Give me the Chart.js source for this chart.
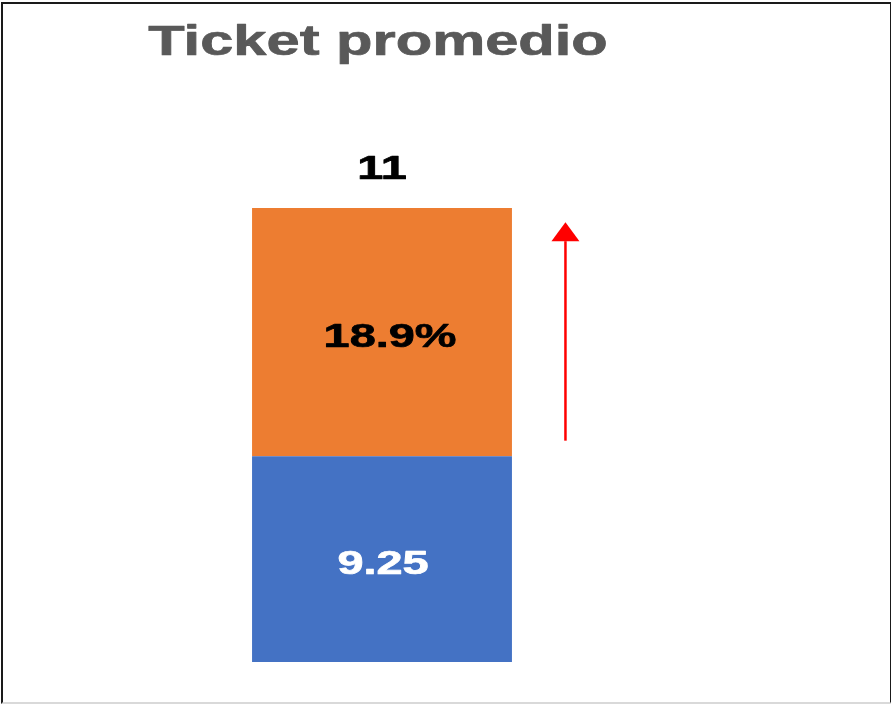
<!DOCTYPE html>
<html>
<head>
<meta charset="utf-8">
<script src="https://cdn.jsdelivr.net/npm/chart.js@4.4.1/dist/chart.umd.min.js"></script>
<style>
  html, body { margin:0; padding:0; background:#fff; }
  #wrap { position:relative; width:891px; height:704px; }
  #frame { position:absolute; left:1px; top:2px; width:887px; height:698px;
    border:2px solid #1a1a1a; border-bottom-color:#d9d9d9; pointer-events:none; }
</style>
</head>
<body>
<div id="wrap">
  <canvas id="ticketChart" width="891" height="704"></canvas>
  <div id="frame"></div>
</div>
<script>
// Chart data
const categories = ['Ticket promedio'];
const baseValues = [9.25];
const increaseValues = [1.75];
const baseLabels = ['9.25'];
const increaseLabels = ['18.9%'];
const totalLabels = ['11'];
const arrowFrom = 9.36, arrowTo = 10.9;   // red arrow next to the bar, in axis units
const axisMin = 7.8, axisMax = 11;

const STRETCH = 1.42;   // text in the original is drawn wide
const FONT = '"Liberation Sans", Arial, sans-serif';

function wideText(ctx, txt, x, y, size, color){
  ctx.save();
  ctx.font = 'bold ' + size + 'px ' + FONT;
  ctx.fillStyle = color;
  ctx.strokeStyle = color;
  ctx.lineWidth = 0.7;
  ctx.lineJoin = 'round';
  ctx.textAlign = 'center';
  ctx.textBaseline = 'alphabetic';
  ctx.translate(x, y);
  ctx.scale(STRETCH, 1);
  ctx.fillText(txt, 0, 0);
  ctx.strokeText(txt, 0, 0);
  ctx.restore();
}

// labels, title and arrow
const overlay = {
  id: 'overlay',
  afterDatasetsDraw(chart){
    const ctx = chart.ctx;
    const y = chart.scales.y;
    const area = chart.chartArea;
    const base = chart.getDatasetMeta(0).data[0];
    const inc = chart.getDatasetMeta(1).data[0];
    const cx = base.x;
    const cap = 0.716 * 33;
    const baseBottom = Math.min(base.base, area.bottom);

    wideText(ctx, categories[0], cx - 4, 55, 42, '#595959');

    wideText(ctx, totalLabels[0], cx, inc.y - 29, 33, '#000');
    wideText(ctx, increaseLabels[0], cx + 8, (inc.y + inc.base)/2 + cap/2 + 3, 33, '#000');
    wideText(ctx, baseLabels[0], cx + 1, (base.y + baseBottom)/2 + cap/2 + 3, 33, '#fff');

    // arrow
    const ax = cx + inc.width/2 + 53.5;
    const yFrom = y.getPixelForValue(arrowFrom);
    const yTip = y.getPixelForValue(arrowTo);
    const headH = 19, headW = 14;
    ctx.save();
    ctx.strokeStyle = '#ff0000';
    ctx.fillStyle = '#ff0000';
    ctx.lineWidth = 2.5;
    ctx.beginPath();
    ctx.moveTo(ax, yFrom);
    ctx.lineTo(ax, yTip + headH);
    ctx.stroke();
    ctx.beginPath();
    ctx.moveTo(ax, yTip);
    ctx.lineTo(ax - headW, yTip + headH);
    ctx.lineTo(ax + headW, yTip + headH);
    ctx.closePath();
    ctx.fill();
    ctx.restore();
  }
};

const ctx = document.getElementById('ticketChart').getContext('2d');
const chart = new Chart(ctx, {
  type: 'bar',
  data: {
    labels: categories,
    datasets: [
      { label: 'Base', data: baseValues, backgroundColor: '#4472C4', borderWidth: 0 },
      { label: 'Incremento', data: increaseValues, backgroundColor: '#ED7D31', borderWidth: 0 }
    ]
  },
  options: {
    responsive: false,
    animation: false,
    layout: { padding: { top: 208, bottom: 42, left: 120, right: 247 } },
    datasets: { bar: { categoryPercentage: 1, barPercentage: 0.496 } },
    plugins: { legend: { display: false }, tooltip: { enabled: false }, title: { display: false } },
    scales: {
      x: { stacked: true, display: false },
      y: { stacked: true, display: false, min: axisMin, max: axisMax }
    }
  },
  plugins: [overlay]
});
</script>
</body>
</html>
